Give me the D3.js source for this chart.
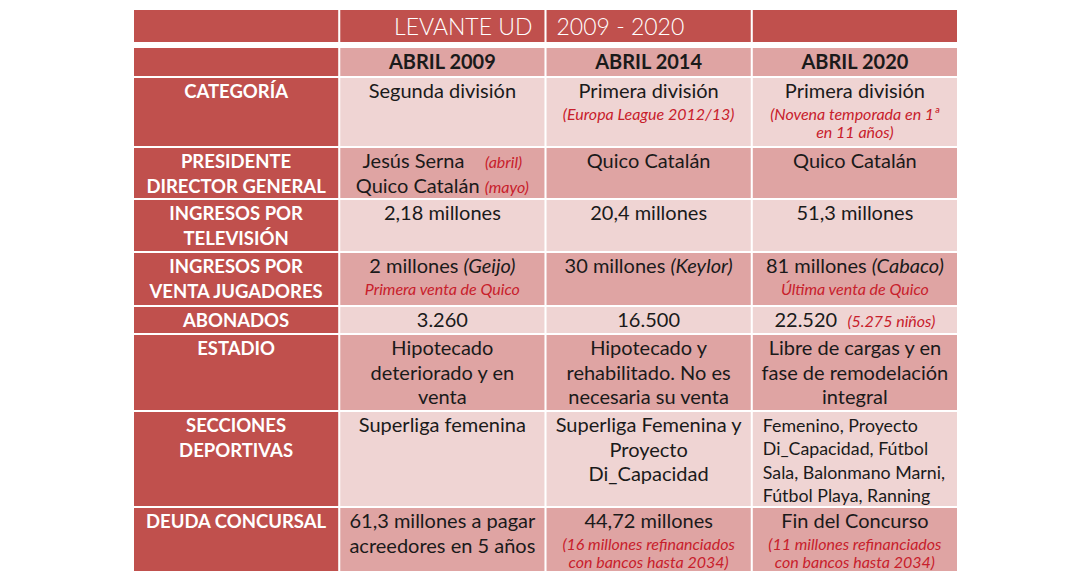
<!DOCTYPE html>
<html>
<head>
<meta charset="utf-8">
<script src="https://cdn.jsdelivr.net/npm/d3@7"></script>
<style>
  body { margin: 0; background: #fff; }
  text { font-family: Lato, "Open Sans", sans-serif; white-space: pre; }
</style>
</head>
<body>
<svg id="chart" width="1080" height="577"></svg>
<script>
// ---- data ----
var title_left = "LEVANTE UD",
    title_right = "2009 - 2020";

var columns = ["ABRIL 2009", "ABRIL 2014", "ABRIL 2020"];

var row_labels = [
  ["CATEGORÍA"],
  ["PRESIDENTE", "DIRECTOR GENERAL"],
  ["INGRESOS POR", "TELEVISIÓN"],
  ["INGRESOS POR", "VENTA JUGADORES"],
  ["ABONADOS"],
  ["ESTADIO"],
  ["SECCIONES", "DEPORTIVAS"],
  ["DEUDA CONCURSAL"]
];

// each cell = list of lines, each line = list of runs
// plain string = normal text, {i:..} = black italic, {r:..} = red italic note
var abril_2009 = [
  [["Segunda división"]],
  [["Jesús Serna    ", {r: "(abril)"}], ["Quico Catalán ", {r: "(mayo)"}]],
  [["2,18 millones"]],
  [["2 millones ", {i: "(Geijo)"}], [{r: "Primera venta de Quico"}]],
  [["3.260"]],
  [["Hipotecado"], ["deteriorado y en"], ["venta"]],
  [["Superliga femenina"]],
  [["61,3 millones a pagar"], ["acreedores en 5 años"]]
];

var abril_2014 = [
  [["Primera división"], [{r: "(Europa League 2012/13)"}]],
  [["Quico Catalán"]],
  [["20,4 millones"]],
  [["30 millones ", {i: "(Keylor)"}]],
  [["16.500"]],
  [["Hipotecado y"], ["rehabilitado. No es"], ["necesaria su venta"]],
  [["Superliga Femenina y"], ["Proyecto"], ["Di_Capacidad"]],
  [["44,72 millones"], [{r: "(16 millones refinanciados"}], [{r: "con bancos hasta 2034)"}]]
];

var abril_2020 = [
  [["Primera división"], [{r: "(Novena temporada en 1ª"}], [{r: "en 11 años)"}]],
  [["Quico Catalán"]],
  [["51,3 millones"]],
  [["81 millones ", {i: "(Cabaco)"}], [{r: "Última venta de Quico"}]],
  [["22.520  ", {r: "(5.275 niños)"}]],
  [["Libre de cargas y en"], ["fase de remodelación"], ["integral"]],
  [["Femenino, Proyecto"], ["Di_Capacidad, Fútbol"], ["Sala, Balonmano Marni,"], ["Fútbol Playa, Ranning"]],
  [["Fin del Concurso"], [{r: "(11 millones refinanciados"}], [{r: "con bancos hasta 2034)"}]]
];

var cells = [abril_2009, abril_2014, abril_2020];

// ---- layout ----
var dark = "#c0504d", mid = "#dfa4a3", light = "#efd4d3",
    ink = "#1a1a1a", red = "#c8202b";
var fs = 20, fs_small = 16, fs_label = 18.5, fs_title = 23;
var title_top = 10, title_h = 32, table_top = 48, header_h = 29;
var row_h = [70, 52, 53, 54, 28, 77, 96, 65];
// secciones 2020 is left aligned and set a bit smaller in the original
var left_aligned = {"6_2": {size: 17.8, lh: 23.4}};

var svg = d3.select("#chart");

var x = d3.scaleBand()
    .domain(["label"].concat(columns))
    .range([134, 957])
    .paddingInner(0.01);
var bw = x.bandwidth();

// row tops
var tops = [table_top + header_h];
row_h.forEach(function(h, i) { tops.push(tops[i] + h); });

// title row
svg.selectAll(".title_cell")
    .data(x.domain())
    .enter().append("rect")
    .attr("class", "title_cell")
    .attr("x", d => x(d)).attr("y", title_top)
    .attr("width", bw).attr("height", title_h)
    .attr("fill", dark);

svg.append("text")
    .attr("x", x(columns[0]) + bw - 12).attr("y", title_top + 25)
    .attr("text-anchor", "end")
    .attr("font-size", fs_title).attr("font-weight", 300)
    .attr("fill", "#fff").text(title_left);

svg.append("text")
    .attr("x", x(columns[1]) + 10).attr("y", title_top + 25)
    .attr("font-size", fs_title).attr("font-weight", 300)
    .attr("fill", "#fff").text(title_right);

// header row
svg.append("rect")
    .attr("x", x("label")).attr("y", table_top)
    .attr("width", bw).attr("height", header_h - 1)
    .attr("fill", dark);

var header = svg.selectAll(".header").data(columns).enter().append("g").attr("class", "header");
header.append("rect")
    .attr("x", d => x(d)).attr("y", table_top)
    .attr("width", bw).attr("height", header_h - 1)
    .attr("fill", mid);
header.append("text")
    .attr("x", d => x(d) + bw / 2).attr("y", table_top + 21)
    .attr("text-anchor", "middle")
    .attr("font-size", fs).attr("font-weight", 700)
    .attr("fill", ink).text(d => d);

// body rows
var rows = svg.selectAll(".row").data(row_labels).enter().append("g").attr("class", "row");

rows.append("rect")
    .attr("x", x("label")).attr("y", (d, i) => tops[i] + 1)
    .attr("width", bw).attr("height", (d, i) => row_h[i] - 2)
    .attr("fill", dark);

rows.each(function(lab, i) {
  var g = d3.select(this);
  g.selectAll(".lab").data(lab).enter().append("text")
      .attr("x", x("label") + bw / 2)
      .attr("y", (d, k) => tops[i] + 21 + k * 24.5)
      .attr("text-anchor", "middle")
      .attr("font-size", fs_label).attr("font-weight", 700)
      .attr("fill", "#fff").text(d => d);

  columns.forEach(function(col, c) {
    g.append("rect")
        .attr("x", x(col)).attr("y", tops[i] + 1)
        .attr("width", bw).attr("height", row_h[i] - 2)
        .attr("fill", i % 2 === 0 ? light : mid);

    var left = left_aligned[i + "_" + c];
    var size = left ? left.size : fs, lh = left ? left.lh : 24.5;
    var y = tops[i] + 21, prev_small = false;
    cells[c][i].forEach(function(line, k) {
      var small = typeof line[0] === "object" && line[0].r !== undefined;
      if (k > 0) y += small ? (prev_small ? 18.5 : 21.5) : lh;
      prev_small = small;
      var t = g.append("text")
          .attr("x", left ? x(col) + 10 : x(col) + bw / 2)
          .attr("y", y)
          .attr("text-anchor", left ? "start" : "middle")
          .attr("font-size", size).attr("fill", ink);
      line.forEach(function(run) {
        var ts = t.append("tspan");
        if (typeof run === "string") ts.text(run);
        else if (run.i !== undefined) ts.attr("font-style", "italic").text(run.i);
        else ts.attr("font-style", "italic").attr("font-size", fs_small).attr("fill", red).text(run.r);
      });
    });
  });
});
</script>
</body>
</html>
